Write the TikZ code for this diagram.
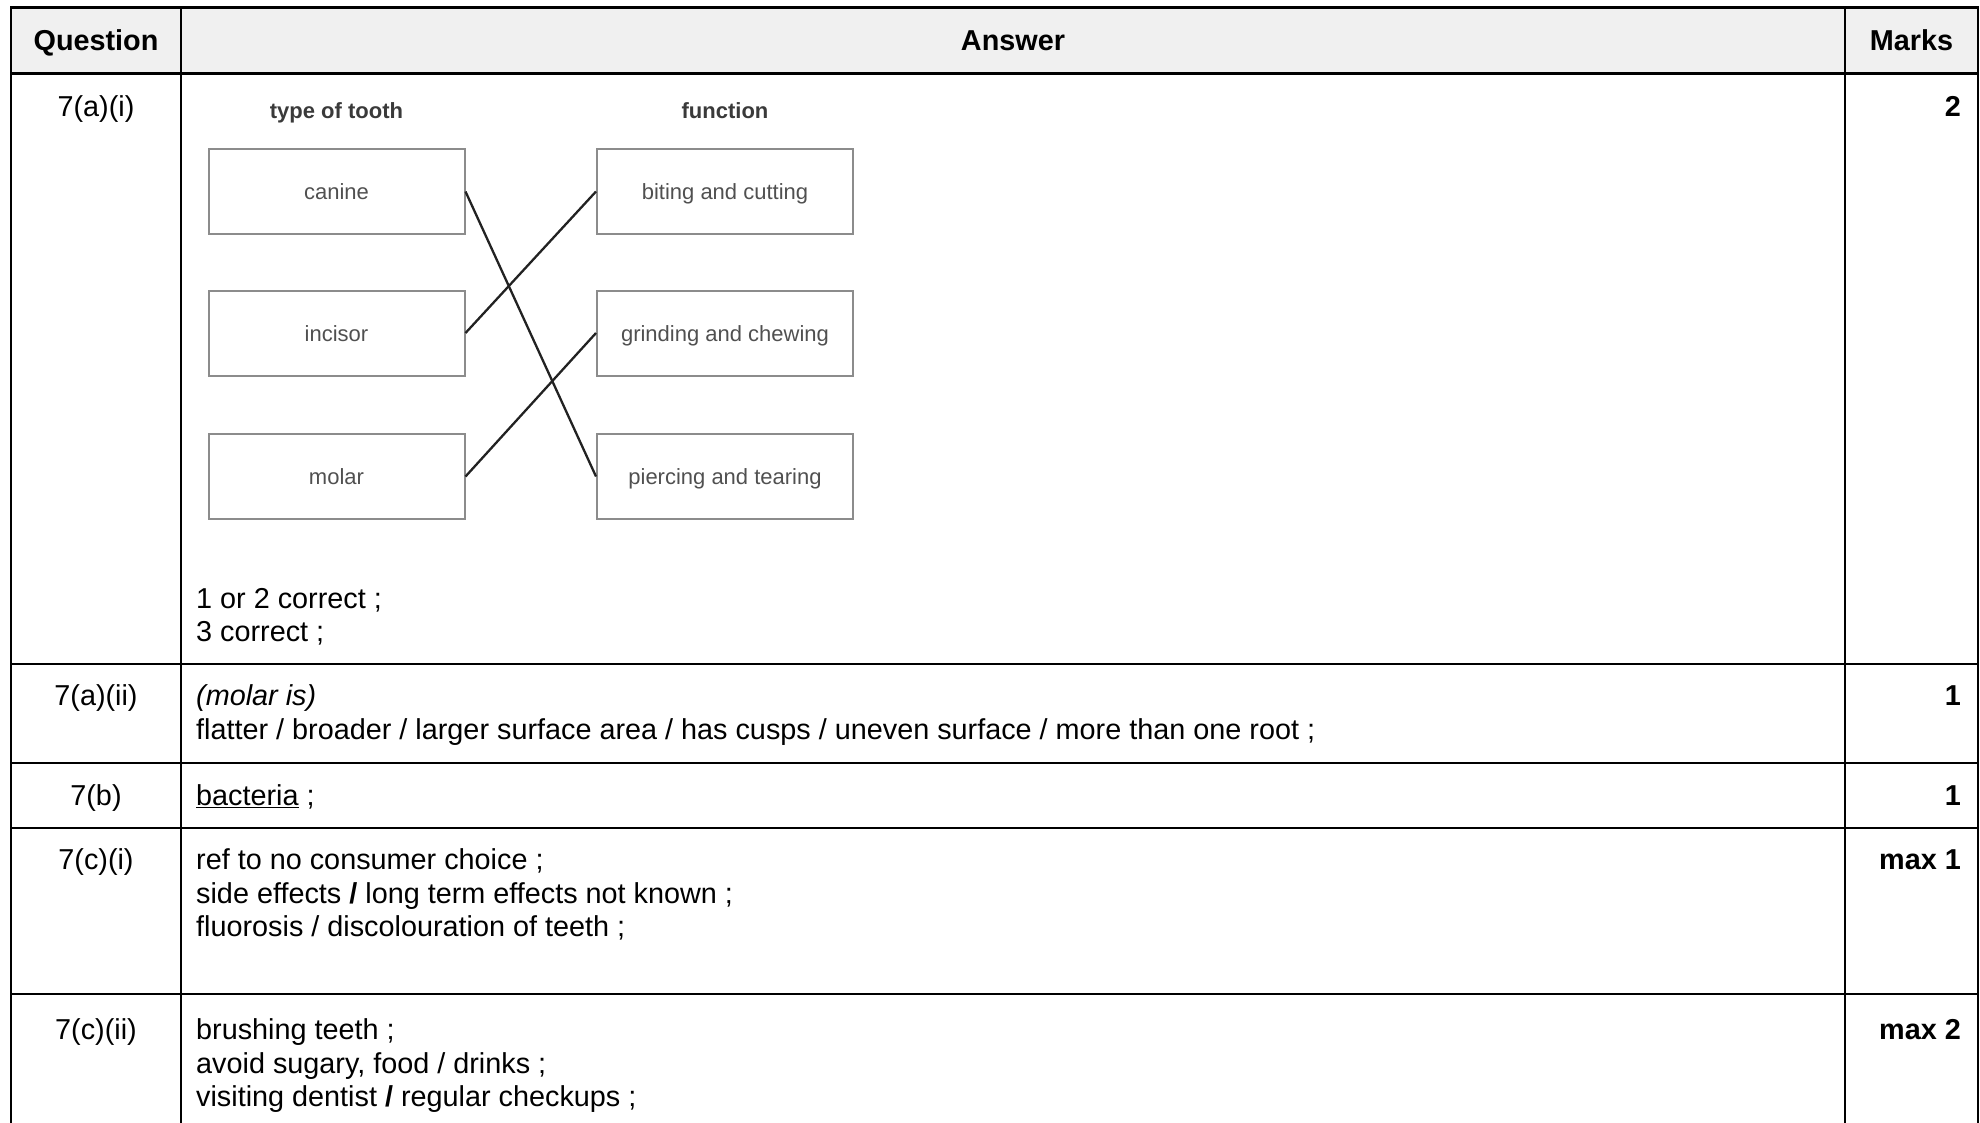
\documentclass[tikz,border=0pt]{standalone}
\usepackage{fontspec}
\setmainfont{Liberation Sans}
\definecolor{hdrfill}{HTML}{F0F0F0}
\definecolor{boxline}{HTML}{8C8C8C}
\definecolor{boxtext}{HTML}{505050}
\definecolor{boxhead}{HTML}{3A3A3A}
\definecolor{linkcol}{HTML}{222222}
\begin{document}
\begin{tikzpicture}[x=1pt,y=-1pt,
  rule/.style={line width=2.2pt, line cap=rect},
  body/.style={anchor=base west, inner sep=0pt, font=\fontsize{28.8}{33}\selectfont},
  qnum/.style={anchor=base, inner sep=0pt, font=\fontsize{28.8}{33}\selectfont},
  mk/.style={anchor=base east, inner sep=0pt, font=\fontsize{28.8}{33}\selectfont\bfseries},
  hdr/.style={anchor=base, inner sep=0pt, font=\fontsize{28.8}{33}\selectfont\bfseries},
  tbox/.style={draw=boxline, line width=2pt, minimum width=256pt, minimum height=85pt,
    inner sep=0pt, text height=20pt, text depth=3.5pt,
    font=\fontsize{22}{26}\selectfont, text=boxtext},
  thead/.style={anchor=base, inner sep=0pt, font=\fontsize{22}{26}\selectfont\bfseries, text=boxhead},
  link/.style={line width=2.3pt, draw=linkcol}]
\useasboundingbox (0,0) rectangle (1980,1122);
% header background
\fill[hdrfill] (11,7.5) rectangle (1978,73);
% table rules
\draw[rule] (11,7.5) -- (1978,7.5);
\draw[line width=3pt] (11,73) -- (1978,73);
\draw[rule] (11,664) -- (1978,664);
\draw[rule] (11,763) -- (1978,763);
\draw[rule] (11,828) -- (1978,828);
\draw[rule] (11,994) -- (1978,994);
\draw[rule] (11,7.5) -- (11,1122);
\draw[rule] (181,7.5) -- (181,1122);
\draw[rule] (1845,7.5) -- (1845,1122);
\draw[rule] (1978,7.5) -- (1978,1122);
% headers
\node[hdr] (hq) at (96,50.5) {Question};
\node[hdr] (ha) at (1013,50.5) {Answer};
\node[hdr] (hm) at (1911.5,50.5) {Marks};
% question numbers
\node[qnum] (q1) at (96,116) {7(a)(i)};
\node[qnum] (q2) at (96,705.5) {7(a)(ii)};
\node[qnum] (q3) at (96,805.5) {7(b)};
\node[qnum] (q4) at (96,869.5) {7(c)(i)};
\node[qnum] (q5) at (96,1039.5) {7(c)(ii)};
% marks
\node[mk] (m1) at (1961,116) {2};
\node[mk] (m2) at (1961,705.5) {1};
\node[mk] (m3) at (1961,805.5) {1};
\node[mk] (m4) at (1961,869.5) {max 1};
\node[mk] (m5) at (1961,1039.5) {max 2};
% matching diagram
\node[thead] (tt) at (336.5,118) {type of tooth};
\node[thead] (tf) at (725,118) {function};
\node[tbox] (canine) at (336.5,191.5) {canine};
\node[tbox] (incisor) at (336.5,333) {incisor};
\node[tbox] (molar) at (336.5,476.5) {molar};
\node[tbox] (biting) at (725,191.5) {biting and cutting};
\node[tbox] (grinding) at (725,333) {grinding and chewing};
\node[tbox] (piercing) at (725,476.5) {piercing and tearing};
\draw[link] (canine.east) -- (piercing.west);
\draw[link] (incisor.east) -- (biting.west);
\draw[link] (molar.east) -- (grinding.west);
% answers
\node[body] (a11) at (196,608) {1 or 2 correct ;};
\node[body] (a12) at (196,641) {3 correct ;};
\node[body] (a21) at (196,705.5) {\itshape (molar is)};
\node[body] (a22) at (196,739) {flatter / broader / larger surface area / has cusps / uneven surface / more than one root ;};
\node[body] (a31) at (196,805.5) {\underline{bacteria} ;};
\node[body] (a41) at (196,869.5) {ref to no consumer choice ;};
\node[body] (a42) at (196,903) {side effects \textbf{/} long term effects not known ;};
\node[body] (a43) at (196,936) {fluorosis / discolouration of teeth ;};
\node[body] (a51) at (196,1039.5) {brushing teeth ;};
\node[body] (a52) at (196,1073) {avoid sugary, food / drinks ;};
\node[body] (a53) at (196,1106) {visiting dentist \textbf{/} regular checkups ;};
\end{tikzpicture}
\end{document}
